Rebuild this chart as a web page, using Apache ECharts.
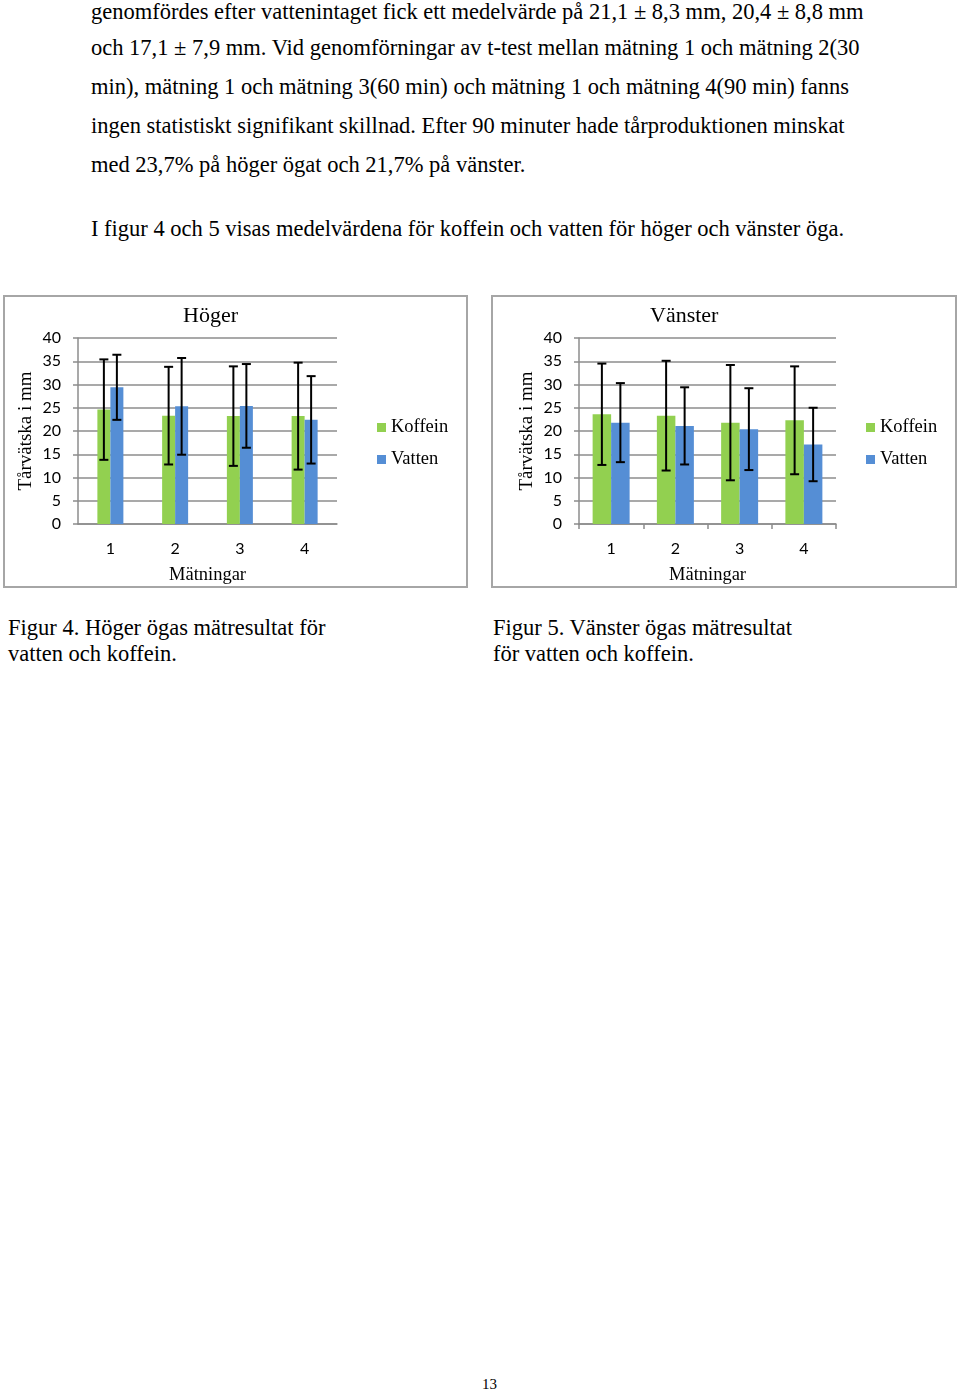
<!DOCTYPE html>
<html>
<head>
<meta charset="utf-8">
<script src="https://cdn.jsdelivr.net/npm/echarts@6/dist/echarts.min.js"></script>
<style>
  html, body { margin: 0; padding: 0; background: #fff; }
  #page { position: relative; width: 960px; height: 1391px; overflow: hidden; font-family: 'Liberation Serif', 'Times New Roman', serif; color: #000; }
  .ln { position: absolute; white-space: nowrap; font-size: 22.5px; line-height: 1; }
  .box { position: absolute; border: 2px solid #a6a6a6; box-sizing: border-box; }
  .box > div { position: absolute; left: 0; top: 0; }
  .pn { position: absolute; font-size: 15px; white-space: nowrap; }
</style>
</head>
<body>
<div id="page">
  <div class="ln" style="left:91px; top:1px;">genomfördes efter vattenintaget fick ett medelvärde på 21,1 ± 8,3 mm, 20,4 ± 8,8 mm</div>
  <div class="ln" style="left:91px; top:37px;">och 17,1 ± 7,9 mm. Vid genomförningar av t-test mellan mätning 1 och mätning 2(30</div>
  <div class="ln" style="left:91px; top:76px;">min), mätning 1 och mätning 3(60 min) och mätning 1 och mätning 4(90 min) fanns</div>
  <div class="ln" style="left:91px; top:115px;">ingen statistiskt signifikant skillnad. Efter 90 minuter hade tårproduktionen minskat</div>
  <div class="ln" style="left:91px; top:154px;">med 23,7% på höger ögat och 21,7% på vänster.</div>
  <div class="ln" style="left:91px; top:218px;">I figur 4 och 5 visas medelvärdena för koffein och vatten för höger och vänster öga.</div>

  <div class="box" style="left:3px; top:295px; width:465px; height:293px;"><div id="c1" style="width:461px; height:289px;"></div></div>
  <div class="box" style="left:491px; top:295px; width:466px; height:293px;"><div id="c2" style="width:462px; height:289px;"></div></div>

  <div class="ln" style="left:8px; top:617px;">Figur 4. Höger ögas mätresultat för</div>
  <div class="ln" style="left:8px; top:643px;">vatten och koffein.</div>
  <div class="ln" style="left:493px; top:617px;">Figur 5. Vänster ögas mätresultat</div>
  <div class="ln" style="left:493px; top:643px;">för vatten och koffein.</div>

  <div class="pn" style="left:482px; top:1376px;">13</div>
</div>
<script>
// ---- data ----
const categories = ['1', '2', '3', '4'];
const seriesNames = ['Koffein', 'Vatten'];
const hogerKoffein = [24.6, 23.3, 23.2, 23.2];
const hogerKoffeinSD = [10.8, 10.5, 10.7, 11.5];
const hogerVatten = [29.4, 25.3, 25.4, 22.4];
const hogerVattenSD = [7.0, 10.4, 9.0, 9.4];
const vansterKoffein = [23.6, 23.3, 21.8, 22.3];
const vansterKoffeinSD = [10.9, 11.8, 12.4, 11.6];
const vansterVatten = [21.8, 21.1, 20.4, 17.1];
const vansterVattenSD = [8.5, 8.3, 8.8, 7.9];
const yTicks = [0, 5, 10, 15, 20, 25, 30, 35, 40];

const GREEN = '#92D050';
const BLUE = '#558ED5';
const GRID = '#8c8c8c';
const SERIF = 'Liberation Serif';
const SANS = 'Lato';

function errSeries(means, sds, offset) {
  return {
    type: 'custom',
    z: 10,
    silent: true,
    data: means.map((m, i) => [i, m, sds[i]]),
    encode: { x: 0, y: 1 },
    renderItem: function (params, api) {
      const i = api.value(0), m = api.value(1), s = api.value(2);
      const c = api.coord([i, m]);
      const hi = api.coord([i, m + s]);
      const lo = api.coord([i, m - s]);
      const x = c[0] + offset;
      const st = { stroke: '#000', lineWidth: 2 };
      const cw = 4.5;
      return {
        type: 'group',
        children: [
          { type: 'line', shape: { x1: x, y1: hi[1], x2: x, y2: lo[1] }, style: st },
          { type: 'line', shape: { x1: x - cw, y1: hi[1], x2: x + cw, y2: hi[1] }, style: st },
          { type: 'line', shape: { x1: x - cw, y1: lo[1], x2: x + cw, y2: lo[1] }, style: st }
        ]
      };
    }
  };
}

function build(cfg) {
  return {
    animation: false,
    title: {
      text: cfg.title, left: cfg.titleX, top: 8, padding: 0,
      textStyle: { fontFamily: SERIF, fontSize: 22, fontWeight: 'normal', color: '#000' }
    },
    legend: {
      data: seriesNames, orient: 'vertical', left: cfg.legendX, top: 121, padding: 0,
      itemWidth: 9, itemHeight: 9, itemGap: 13, icon: 'rect',
      textStyle: { fontFamily: SERIF, fontSize: 18.5, color: '#000' }
    },
    grid: { left: cfg.gridLeft, right: cfg.gridRight, top: 41, bottom: 62, containLabel: false, outerBoundsMode: 'none' },
    xAxis: {
      type: 'category', data: categories,
      name: 'Mätningar', nameLocation: 'middle', nameGap: 42, nameMoveOverlap: false,
      nameTextStyle: { fontFamily: SERIF, fontSize: 18.5, color: '#000' },
      axisLine: { show: true, lineStyle: { color: GRID, width: 1.5 } },
      axisTick: { show: cfg.xTicks, alignWithLabel: false, length: 5, lineStyle: { color: GRID, width: 1.5 } },
      axisLabel: { fontFamily: SANS, fontSize: 16, color: '#000', margin: 17 }
    },
    yAxis: {
      type: 'value', min: yTicks[0], max: yTicks[yTicks.length - 1], interval: yTicks[1] - yTicks[0],
      name: 'Tårvätska i mm', nameLocation: 'middle', nameGap: 42, nameRotate: 90, nameMoveOverlap: false,
      nameTextStyle: { fontFamily: SERIF, fontSize: 19, color: '#000' },
      axisLine: { show: true, lineStyle: { color: GRID, width: 1.5 } },
      axisTick: { show: true, length: 5, lineStyle: { color: GRID, width: 1.5 } },
      axisLabel: { fontFamily: SANS, fontSize: 16, color: '#000', margin: 17 },
      splitLine: { show: true, lineStyle: { color: GRID, width: 1.5 } }
    },
    series: [
      { name: seriesNames[0], type: 'bar', data: cfg.k, barWidth: cfg.bw, barGap: '0%', itemStyle: { color: GREEN } },
      { name: seriesNames[1], type: 'bar', data: cfg.v, barWidth: cfg.bw, barGap: '0%', itemStyle: { color: BLUE } },
      errSeries(cfg.k, cfg.kSD, -cfg.bw / 2),
      errSeries(cfg.v, cfg.vSD, cfg.bw / 2)
    ]
  };
}

const c1 = echarts.init(document.getElementById('c1'), null, { renderer: 'canvas' });
c1.setOption(build({
  title: 'Höger', titleX: 178, legendX: 372, gridLeft: 73, gridRight: 129, xTicks: false, bw: 13,
  k: hogerKoffein, kSD: hogerKoffeinSD, v: hogerVatten, vSD: hogerVattenSD
}));
const c2 = echarts.init(document.getElementById('c2'), null, { renderer: 'canvas' });
c2.setOption(build({
  title: 'Vänster', titleX: 157, legendX: 373, gridLeft: 86, gridRight: 119, xTicks: true, bw: 18.5,
  k: vansterKoffein, kSD: vansterKoffeinSD, v: vansterVatten, vSD: vansterVattenSD
}));
</script>
</body>
</html>
